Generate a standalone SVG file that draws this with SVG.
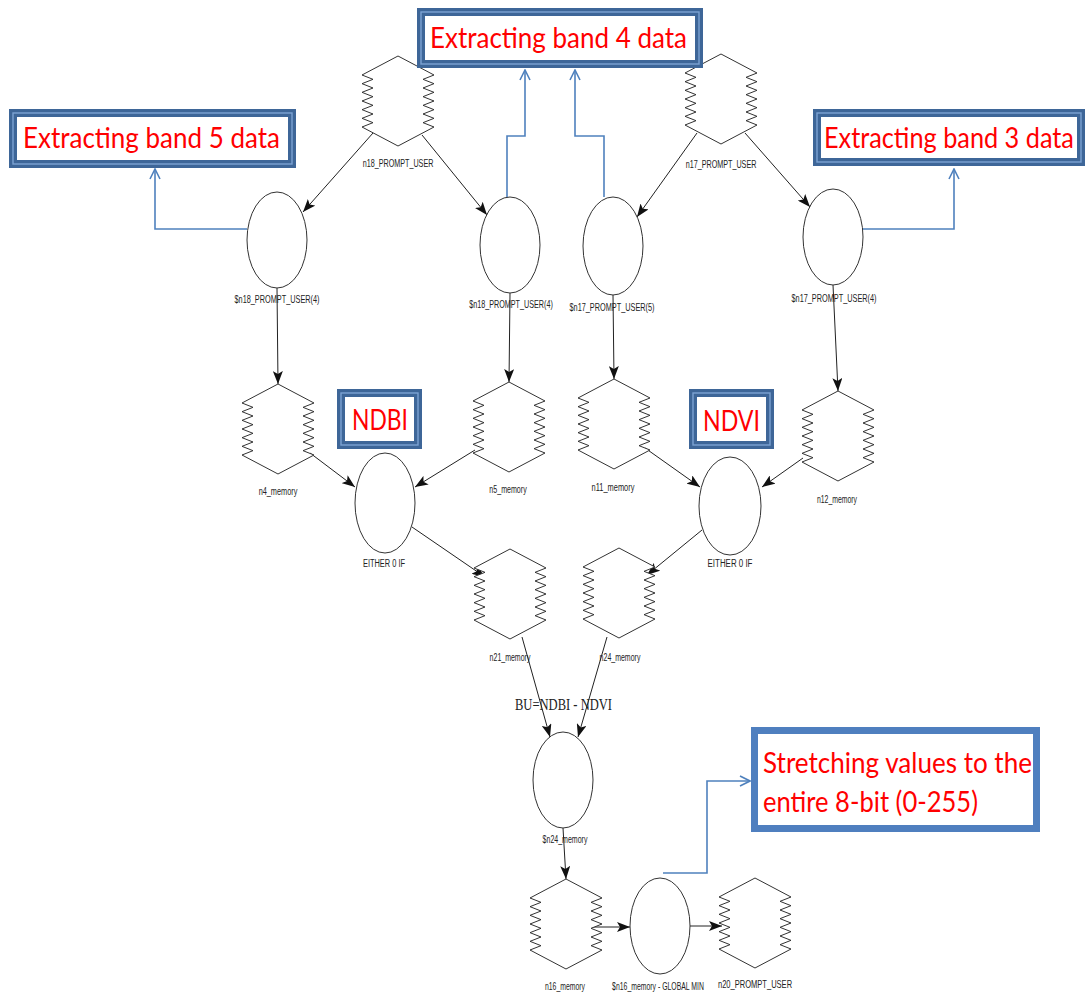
<svg xmlns="http://www.w3.org/2000/svg" xmlns:xlink="http://www.w3.org/1999/xlink" width="1088" height="995" viewBox="0 0 1088 995">
  <style>
    .shape { fill: #ffffff; stroke: #333333; stroke-width: 1; }
    .lbl { font-family: "Liberation Sans", Arial, sans-serif; font-size: 11px; fill: #222222; text-anchor: middle; }
    .edge { stroke: #222222; stroke-width: 1; fill: none; marker-end: url(#arrow); }
    .note-edge { stroke: #4f81bd; stroke-width: 1.6; fill: none; marker-end: url(#open); }
    .frame-outer { fill: #ffffff; stroke: #3e6698; stroke-width: 8; }
    .frame-inner { fill: none; stroke: #7da3d3; stroke-width: 1.4; }
    .frame-solid { fill: #ffffff; stroke: #4f7fbf; stroke-width: 7; }
    .note { font-family: Lato, "Liberation Sans", Arial, sans-serif; font-size: 28px; fill: #ff0000; }
    .formula { font-family: "Liberation Serif", "Times New Roman", serif; font-size: 17px; fill: #222222; }
  </style>
  <defs>
    <marker id="arrow" viewBox="0 0 13 10" refX="13" refY="5" markerWidth="13" markerHeight="10" markerUnits="userSpaceOnUse" orient="auto">
      <path d="M0,0 L13,5 L0,10 L3,5 Z" fill="#111111"/>
    </marker>
    <marker id="open" viewBox="0 0 12 12" refX="11" refY="6" markerWidth="12" markerHeight="12" markerUnits="userSpaceOnUse" orient="auto">
      <path d="M1,1 L11,6 L1,11" fill="none" stroke="#4f81bd" stroke-width="1.6"/>
    </marker>
    <!-- memory / prompt hexagon with zig-zag sides, centred on the origin -->
    <path id="hex" class="shape" d="M0,-45 L-36,-26 L-25,-21.67 L-36,-17.33 L-25,-13 L-36,-8.67 L-25,-4.33 L-36,0 L-25,4.33 L-36,8.67 L-25,13 L-36,17.33 L-25,21.67 L-36,26 L0,45 L36,26 L25,21.67 L36,17.33 L25,13 L36,8.67 L25,4.33 L36,0 L25,-4.33 L36,-8.67 L25,-13 L36,-17.33 L25,-21.67 L36,-26 Z"/>
  </defs>

  <rect width="1088" height="995" fill="#ffffff"/>

  <!-- connectors -->
  <g id="connectors">
    <line class="edge" x1="373" y1="133" x2="303" y2="212"/>
    <line class="edge" x1="422" y1="135" x2="487" y2="215"/>
    <line class="edge" x1="697" y1="133" x2="637" y2="217"/>
    <line class="edge" x1="745" y1="133" x2="810" y2="207"/>
    <line class="edge" x1="277" y1="288" x2="278" y2="384"/>
    <line class="edge" x1="510" y1="293" x2="509" y2="382"/>
    <line class="edge" x1="613" y1="295" x2="614" y2="379"/>
    <line class="edge" x1="833" y1="285" x2="838" y2="391"/>
    <line class="edge" x1="310" y1="453" x2="355" y2="487"/>
    <line class="edge" x1="475" y1="450" x2="415" y2="487"/>
    <line class="edge" x1="645" y1="448" x2="700" y2="487"/>
    <line class="edge" x1="803" y1="458" x2="762" y2="487"/>
    <line class="edge" x1="412" y1="527" x2="485" y2="577"/>
    <line class="edge" x1="702" y1="530" x2="647" y2="575"/>
    <line class="edge" x1="522" y1="637" x2="550" y2="737"/>
    <line class="edge" x1="607" y1="637" x2="578" y2="737"/>
    <line class="edge" x1="563" y1="828" x2="566" y2="879"/>
    <line class="edge" x1="592" y1="927" x2="630" y2="927"/>
    <line class="edge" x1="690" y1="926" x2="722" y2="926"/>
    <!-- annotation links -->
    <polyline class="note-edge" points="247,229 155,229 155,169"/>
    <polyline class="note-edge" points="507,197 507,136 525,136 525,70"/>
    <polyline class="note-edge" points="604,197 604,136 575,136 575,70"/>
    <polyline class="note-edge" points="862,229 954,229 954,169"/>
    <polyline class="note-edge" points="663,873 707,873 707,781 750,781"/>
  </g>

  <!-- top row prompts -->
  <g id="n18_PROMPT_USER">
    <use xlink:href="#hex" transform="translate(398,101)"/>
    <text class="lbl" transform="translate(398,167) scale(0.68,1)" textLength="104" lengthAdjust="spacingAndGlyphs">n18_PROMPT_USER</text>
  </g>
  <g id="n17_PROMPT_USER">
    <use xlink:href="#hex" transform="translate(721,99)"/>
    <text class="lbl" transform="translate(721,168) scale(0.68,1)" textLength="104" lengthAdjust="spacingAndGlyphs">n17_PROMPT_USER</text>
  </g>

  <!-- band extraction functions -->
  <g id="f_n18_4a">
    <ellipse class="shape" cx="277" cy="240" rx="30" ry="48"/>
    <text class="lbl" transform="translate(277,303) scale(0.68,1)" textLength="125" lengthAdjust="spacingAndGlyphs">$n18_PROMPT_USER(4)</text>
  </g>
  <g id="f_n18_4b">
    <ellipse class="shape" cx="510" cy="245" rx="30" ry="48"/>
    <text class="lbl" transform="translate(511,308) scale(0.68,1)" textLength="123" lengthAdjust="spacingAndGlyphs">$n18_PROMPT_USER(4)</text>
  </g>
  <g id="f_n17_5">
    <ellipse class="shape" cx="613" cy="246" rx="30" ry="49"/>
    <text class="lbl" transform="translate(612,311) scale(0.68,1)" textLength="125" lengthAdjust="spacingAndGlyphs">$n17_PROMPT_USER(5)</text>
  </g>
  <g id="f_n17_4">
    <ellipse class="shape" cx="833" cy="237" rx="30" ry="48"/>
    <text class="lbl" transform="translate(834,302) scale(0.68,1)" textLength="125" lengthAdjust="spacingAndGlyphs">$n17_PROMPT_USER(4)</text>
  </g>

  <!-- band memories -->
  <g id="n4_memory">
    <use xlink:href="#hex" transform="translate(278,429)"/>
    <text class="lbl" transform="translate(278,495) scale(0.68,1)" textLength="57" lengthAdjust="spacingAndGlyphs">n4_memory</text>
  </g>
  <g id="n5_memory">
    <use xlink:href="#hex" transform="translate(509,427)"/>
    <text class="lbl" transform="translate(508,493) scale(0.68,1)" textLength="55" lengthAdjust="spacingAndGlyphs">n5_memory</text>
  </g>
  <g id="n11_memory">
    <use xlink:href="#hex" transform="translate(614,424)"/>
    <text class="lbl" transform="translate(613,491) scale(0.68,1)" textLength="63" lengthAdjust="spacingAndGlyphs">n11_memory</text>
  </g>
  <g id="n12_memory">
    <use xlink:href="#hex" transform="translate(838,436)"/>
    <text class="lbl" transform="translate(837,503) scale(0.68,1)" textLength="59" lengthAdjust="spacingAndGlyphs">n12_memory</text>
  </g>

  <!-- index calculations -->
  <g id="either_ndbi">
    <ellipse class="shape" cx="385" cy="503" rx="30" ry="50"/>
    <text class="lbl" transform="translate(384,567) scale(0.68,1)" textLength="62" lengthAdjust="spacingAndGlyphs">EITHER 0 IF</text>
  </g>
  <g id="either_ndvi">
    <ellipse class="shape" cx="730" cy="506" rx="31" ry="49"/>
    <text class="lbl" transform="translate(730,567) scale(0.68,1)" textLength="66" lengthAdjust="spacingAndGlyphs">EITHER 0 IF</text>
  </g>

  <g id="n21_memory">
    <use xlink:href="#hex" transform="translate(510,594)"/>
    <text class="lbl" transform="translate(510,661) scale(0.68,1)" textLength="60" lengthAdjust="spacingAndGlyphs">n21_memory</text>
  </g>
  <g id="n24_memory">
    <use xlink:href="#hex" transform="translate(619,593)"/>
    <text class="lbl" transform="translate(620,661) scale(0.68,1)" textLength="60" lengthAdjust="spacingAndGlyphs">n24_memory</text>
  </g>

  <text class="formula" x="515" y="710" textLength="97" lengthAdjust="spacingAndGlyphs">BU=NDBI - NDVI</text>

  <g id="f_n24_memory">
    <ellipse class="shape" cx="563" cy="780" rx="30" ry="48"/>
    <text class="lbl" transform="translate(565,843) scale(0.68,1)" textLength="66" lengthAdjust="spacingAndGlyphs">$n24_memory</text>
  </g>

  <!-- stretching chain -->
  <g id="n16_memory">
    <use xlink:href="#hex" transform="translate(566,924)"/>
    <text class="lbl" transform="translate(565,990) scale(0.68,1)" textLength="59" lengthAdjust="spacingAndGlyphs">n16_memory</text>
  </g>
  <g id="f_global_min">
    <ellipse class="shape" cx="660" cy="926" rx="30" ry="48"/>
    <text class="lbl" transform="translate(658,990) scale(0.68,1)" textLength="135" lengthAdjust="spacingAndGlyphs">$n16_memory - GLOBAL MIN</text>
  </g>
  <g id="n20_PROMPT_USER">
    <use xlink:href="#hex" transform="translate(755,923)"/>
    <text class="lbl" transform="translate(755,988) scale(0.68,1)" textLength="109" lengthAdjust="spacingAndGlyphs">n20_PROMPT_USER</text>
  </g>

  <!-- annotation boxes -->
  <g id="note_band4">
    <rect class="frame-outer" x="421" y="12" width="278" height="52"/>
    <rect class="frame-inner" x="421" y="12" width="278" height="52"/>
    <text class="note" x="430" y="48" textLength="257" lengthAdjust="spacingAndGlyphs">Extracting band 4 data</text>
  </g>
  <g id="note_band5">
    <rect class="frame-outer" x="13" y="113" width="279" height="51"/>
    <rect class="frame-inner" x="13" y="113" width="279" height="51"/>
    <text class="note" x="23" y="148" textLength="257" lengthAdjust="spacingAndGlyphs">Extracting band 5 data</text>
  </g>
  <g id="note_band3">
    <rect class="frame-outer" x="817" y="113" width="264" height="49"/>
    <rect class="frame-inner" x="817" y="113" width="264" height="49"/>
    <text class="note" transform="translate(824,148) scale(0.88,1)" textLength="284" lengthAdjust="spacingAndGlyphs">Extracting band 3 data</text>
  </g>
  <g id="note_ndbi">
    <rect class="frame-outer" x="341" y="393" width="77" height="52"/>
    <rect class="frame-inner" x="341" y="393" width="77" height="52"/>
    <text class="note" x="352" y="430" textLength="56" lengthAdjust="spacingAndGlyphs">NDBI</text>
  </g>
  <g id="note_ndvi">
    <rect class="frame-outer" x="693" y="393" width="77" height="52"/>
    <rect class="frame-inner" x="693" y="393" width="77" height="52"/>
    <text class="note" x="703" y="431" textLength="57" lengthAdjust="spacingAndGlyphs">NDVI</text>
  </g>
  <g id="note_stretch">
    <rect class="frame-solid" x="754.5" y="730.5" width="282" height="98"/>
    <text class="note" x="763" y="773" font-size="29" textLength="269" lengthAdjust="spacingAndGlyphs">Stretching values to the</text>
    <text class="note" x="763" y="812" font-size="29" textLength="215" lengthAdjust="spacingAndGlyphs">entire 8-bit (0-255)</text>
  </g>
</svg>
